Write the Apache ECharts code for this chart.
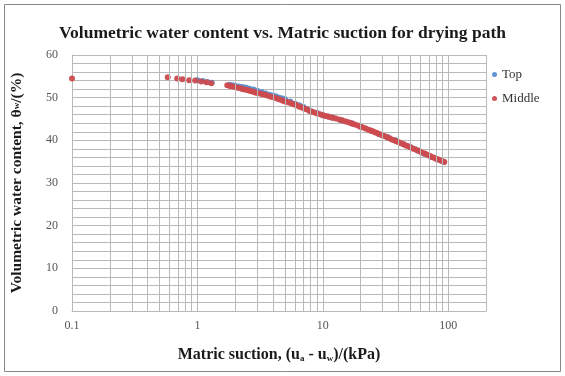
<!DOCTYPE html>
<html><head><meta charset="utf-8">
<script src="https://cdn.jsdelivr.net/npm/echarts@6/dist/echarts.min.js"></script>
<style>html,body{margin:0;padding:0;background:#fff}#c{width:565px;height:376px}</style>
</head><body><div id="c"></div>
<script>
const titleText = 'Volumetric water content vs. Matric suction for drying path';
const xTickLabels = [0.1, 1, 10, 100];
const xMinorLines = [0.2,0.3,0.4,0.5,0.6,0.7,0.8,0.9,2,3,4,5,6,7,8,9,20,30,40,50,60,70,80,90];
const topSuction = [1.0,1.1,1.2,1.3,1.8,1.9,2.0,2.15,2.3,2.45,2.6,2.8,3.0,3.25,3.5,3.75,4.0,4.25,4.5,4.75,5.0,5.5,6.0,6.5,7.0,7.5,8.0,9.0,10,11,12,14,17,20,24,28,33,38,44,50,57,65,73,82,92];
const topTheta   = [54.1,53.9,53.7,53.5,53.0,52.9,52.8,52.6,52.5,52.3,52.1,51.9,51.6,51.3,51.0,50.7,50.5,50.3,50.0,49.8,49.6,49.1,48.6,48.2,47.8,47.3,46.9,46.4,45.9,45.6,45.3,44.7,44.0,43.2,42.3,41.5,40.7,40.0,39.1,38.4,37.6,36.8,36.1,35.5,35.0];
const midSuction = [0.1,0.58,0.69,0.76,0.86,0.96,1.07,1.18,1.29,1.73,1.8,1.85,1.92,2.0,2.1,2.2,2.3,2.4,2.5,2.6,2.7,2.8,2.9,3.0,3.15,3.3,3.45,3.6,3.8,4.0,4.2,4.4,4.6,4.8,5.0,5.2,5.45,5.7,5.95,6.2,6.5,6.8,7.15,7.5,7.85,8.2,8.6,9.0,9.5,10,10.5,11,11.5,12,12.7,13.5,14.2,15,15.7,16.5,17.2,18,19,20,21,22,23,24,25,26,27,28,29.5,31,32.5,34,35.5,37,38.5,40,42,44,46,48,50,52,54.5,57,59.5,62,65,68,71,74,77,80,83.5,87,90,93];
const midTheta   = [54.5,54.8,54.5,54.3,54.1,54.0,53.8,53.6,53.4,52.9,52.8,52.7,52.6,52.5,52.3,52.2,52.0,51.9,51.8,51.6,51.5,51.4,51.2,51.1,51.0,50.8,50.7,50.5,50.3,50.1,49.9,49.7,49.5,49.3,49.1,49.0,48.8,48.6,48.4,48.2,47.9,47.7,47.4,47.2,46.9,46.7,46.5,46.3,46.1,45.9,45.7,45.6,45.4,45.3,45.1,44.9,44.7,44.5,44.3,44.1,43.9,43.7,43.5,43.2,43.0,42.8,42.5,42.3,42.1,41.9,41.7,41.5,41.2,41.0,40.7,40.5,40.2,40.0,39.8,39.6,39.3,39.1,38.8,38.6,38.4,38.1,37.9,37.6,37.4,37.1,36.9,36.6,36.4,36.1,35.9,35.7,35.5,35.3,35.1,34.9];

const pair = (xs, ys) => xs.map((x, i) => [x, ys[i]]);
const serif = '"Liberation Serif", "DejaVu Serif", serif';
const gridColor = '#b9b9b9';

const chart = echarts.init(document.getElementById('c'), null, {renderer: 'canvas'});
chart.setOption({
  animation: false,
  backgroundColor: '#fff',
  title: {
    text: titleText, left: 'center', top: 19,
    textStyle: {fontFamily: serif, fontSize: 17.5, fontWeight: 'bold', color: '#1a1a1a'}
  },
  graphic: [{type: 'rect', shape: {x: 4.5, y: 4.5, width: 556, height: 367},
    style: {fill: 'none', stroke: '#888', lineWidth: 1}, silent: true}],
  legend: {
    orient: 'vertical', left: 487, top: 63, itemGap: 11,
    icon: 'circle', itemWidth: 5, itemHeight: 5,
    data: ['Top', 'Middle'],
    textStyle: {fontFamily: serif, fontSize: 13, color: '#333'}
  },
  grid: {left: 72, right: 79, top: 55, bottom: 65},
  xAxis: {
    type: 'log', logBase: 10, min: 0.1, max: 200,
    name: 'Matric suction, (u{s|a} - u{s|w})/(kPa)',
    nameLocation: 'middle', nameGap: 36,
    nameTextStyle: {fontFamily: serif, fontSize: 16, fontWeight: 'bold', color: '#1a1a1a',
      rich: {s: {fontFamily: serif, fontSize: 9, fontWeight: 'bold', verticalAlign: 'bottom', padding: [7,0,0,0], color: '#1a1a1a'}}},
    axisLine: {show: true, lineStyle: {color: gridColor}},
    axisTick: {show: false},
    axisLabel: {fontFamily: serif, fontSize: 12, color: '#555', margin: 9, showMaxLabel: false,
      formatter: v => (xTickLabels.some(t => Math.abs(t - v) < 1e-9) ? String(v) : '')},
    splitLine: {show: true, lineStyle: {color: gridColor, width: 1}}
  },
  yAxis: {
    type: 'value', min: 0, max: 60, interval: 10,
    name: 'Volumetric water content, θ{s|w}/(%)',
    nameLocation: 'middle', nameGap: 47,
    nameTextStyle: {fontFamily: serif, fontSize: 15.5, fontWeight: 'bold', color: '#1a1a1a',
      rich: {s: {fontFamily: serif, fontSize: 9, fontWeight: 'bold', color: '#1a1a1a'}}},
    axisLine: {show: true, lineStyle: {color: gridColor}},
    axisTick: {show: false},
    axisLabel: {fontFamily: serif, fontSize: 12, color: '#555', margin: 14},
    splitLine: {show: true, lineStyle: {color: gridColor, width: 1}},
    minorTick: {show: false, splitNumber: 5},
    minorSplitLine: {show: true, lineStyle: {color: gridColor, width: 1}}
  },
  series: [
    {
      name: '_grid', type: 'scatter', data: [], z: 1, silent: true,
      markLine: {
        silent: true, symbol: 'none', label: {show: false}, animation: false,
        lineStyle: {color: gridColor, width: 1, type: 'solid'},
        emphasis: {disabled: true},
        data: xMinorLines.map(v => ({xAxis: v}))
      }
    },
    {
      name: 'Top', type: 'scatter', data: pair(topSuction, topTheta),
      symbol: 'circle', symbolSize: 6, z: 3,
      itemStyle: {color: '#5a8fd0', opacity: 0.95}
    },
    {
      name: 'Middle', type: 'scatter', data: pair(midSuction, midTheta),
      symbol: 'circle', symbolSize: 6, z: 4,
      itemStyle: {color: '#cc4b4f', opacity: 0.95}
    }
  ]
});
</script></body></html>
